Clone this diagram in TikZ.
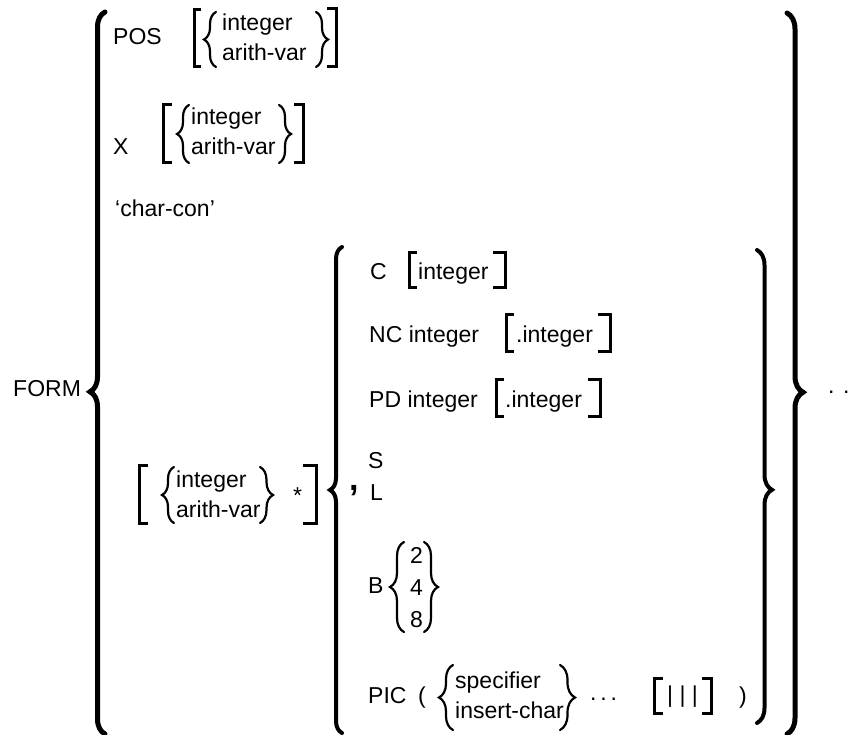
\documentclass[tikz,border=0pt]{standalone}
\usepackage{fontspec}
\setmainfont{Liberation Sans}
\usetikzlibrary{decorations.pathreplacing}
\tikzset{
  word/.style={anchor=base west, inner sep=0pt, font=\fontsize{23}{27}\selectfont},
  curly/.style={decorate, decoration={brace, amplitude=#1}, line width=2.2pt, line cap=round},
  sq/.style={line width=3pt}
}
\begin{document}
\begin{tikzpicture}[x=1pt, y=-1pt]
\useasboundingbox (0,0) rectangle (852,735);
\node [word] (form) at (13,397) {FORM};
\node [word] (pos) at (113,45) {POS};
\node [word] (posint) at (222,31) {integer};
\node [word] (posvar) at (222,61) {arith-var};
\node [word] (x) at (113,155) {X};
\node [word] (xint) at (191,125) {integer};
\node [word] (xvar) at (191,155) {arith-var};
\node [word] (charcon) at (115,217) {‘char-con’};
\node [word] (rint) at (176,487) {integer};
\node [word] (rvar) at (176,517) {arith-var};
\node [word] (star) at (293,503) {*};
\node [word, font=\fontsize{34}{34}\selectfont\bfseries] (comma) at (349,490) {,};
\node [word] (c) at (370,280) {C};
\node [word] (cint) at (418,280) {integer};
\node [word] (nc) at (369,343) {NC integer};
\node [word] (ncint) at (516,343) {.integer};
\node [word] (pd) at (369,407) {PD integer};
\node [word] (pdint) at (505,407) {.integer};
\node [word] (s) at (368,468) {S};
\node [word] (l) at (370,500) {L};
\node [word] (b) at (368,593) {B};
\node [word] (b2) at (410,563) {2};
\node [word] (b4) at (410,595) {4};
\node [word] (b8) at (410,627) {8};
\node [word] (pic) at (368,703) {PIC};
\node [word] (lpar) at (418,703) {(};
\node [word] (spec) at (455,688) {specifier};
\node [word] (ins) at (455,718) {insert-char};
\node [word] (dots) at (590,700) {.\,.\,.};
\node [word] (bars) at (667,702) {| | |};
\node [word] (rpar) at (739,703) {)};
\node [word] (cont) at (828,394) {. .};
\draw [curly=15, line width=5pt, decoration={aspect=0.474}] (105,734) -- (105,12);
\draw [curly=16, line width=5pt, decoration={aspect=0.526}] (787,13) -- (787,734);
\draw [curly=12, line width=4pt] (342,733) -- (342,247);
\draw [curly=15, line width=4pt, decoration={aspect=0.507}] (757,250) -- (757,723);
\draw [curly=12] (216,67) -- (216,12);
\draw [curly=12] (316,12) -- (316,67);
\draw [curly=12] (189,163) -- (189,105);
\draw [curly=12] (279,105) -- (279,163);
\draw [curly=12] (174,523) -- (174,467);
\draw [curly=13] (260,467) -- (260,523);
\draw [curly=14] (404,632) -- (404,542);
\draw [curly=14] (424,542) -- (424,632);
\draw [curly=14] (453,730) -- (453,665);
\draw [curly=15] (560,665) -- (560,730);
\draw [sq] (201,10) -- (194,10) -- (194,67) -- (201,67);
\draw [sq] (327,9) -- (336,9) -- (336,67) -- (327,67);
\draw [sq] (172,105) -- (163,105) -- (163,163) -- (172,163);
\draw [sq] (294,105) -- (303,105) -- (303,163) -- (294,163);
\draw [sq] (148,465) -- (139,465) -- (139,523) -- (148,523);
\draw [sq] (303,465) -- (316,465) -- (316,523) -- (303,523);
\draw [sq] (417,253) -- (409,253) -- (409,288) -- (417,288);
\draw [sq] (493,253) -- (505,253) -- (505,288) -- (493,288);
\draw [sq] (514,315) -- (506,315) -- (506,352) -- (514,352);
\draw [sq] (598,315) -- (610,315) -- (610,352) -- (598,352);
\draw [sq] (504,380) -- (496,380) -- (496,417) -- (504,417);
\draw [sq] (588,380) -- (600,380) -- (600,417) -- (588,417);
\draw [sq] (663,678) -- (654,678) -- (654,713) -- (663,713);
\draw [sq] (702,678) -- (711,678) -- (711,713) -- (702,713);
\end{tikzpicture}
\end{document}
